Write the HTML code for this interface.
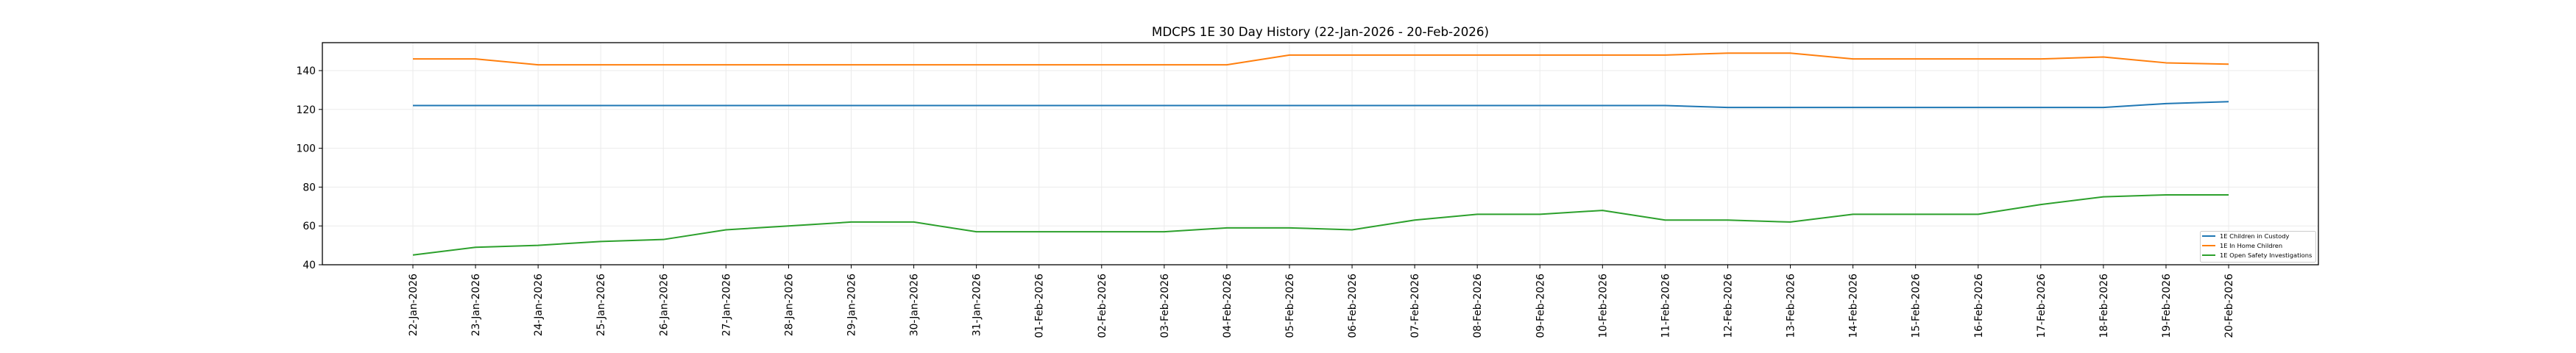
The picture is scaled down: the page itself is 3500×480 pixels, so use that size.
<!DOCTYPE html>
<html><head><meta charset="utf-8"><style>
html,body{margin:0;padding:0;background:#fff;}
svg{display:block;font-family:"DejaVu Sans","Liberation Sans",sans-serif;}
</style></head><body>
<svg width="3500" height="480" viewBox="0 0 3500 480" xmlns="http://www.w3.org/2000/svg">
<rect width="3500" height="480" fill="#fff"/>
<text x="1794" y="49" font-size="16.7" text-anchor="middle" fill="#000">MDCPS 1E 30 Day History (22-Jan-2026 - 20-Feb-2026)</text>
<!-- grid -->
<g stroke="#ebebeb" stroke-width="1">
<line x1="438" x2="3150" y1="360" y2="360"/><line x1="438" x2="3150" y1="307.2" y2="307.2"/><line x1="438" x2="3150" y1="254.4" y2="254.4"/><line x1="438" x2="3150" y1="201.6" y2="201.6"/><line x1="438" x2="3150" y1="148.8" y2="148.8"/><line x1="438" x2="3150" y1="96" y2="96"/>
</g>
<g transform="translate(561,0)" stroke="#ebebeb" stroke-width="1">
<line x1="0" x2="0" y1="58" y2="360"/><line x1="85.07" x2="85.07" y1="58" y2="360"/><line x1="170.14" x2="170.14" y1="58" y2="360"/><line x1="255.21" x2="255.21" y1="58" y2="360"/><line x1="340.28" x2="340.28" y1="58" y2="360"/><line x1="425.35" x2="425.35" y1="58" y2="360"/><line x1="510.42" x2="510.42" y1="58" y2="360"/><line x1="595.49" x2="595.49" y1="58" y2="360"/><line x1="680.56" x2="680.56" y1="58" y2="360"/><line x1="765.63" x2="765.63" y1="58" y2="360"/><line x1="850.7" x2="850.7" y1="58" y2="360"/><line x1="935.77" x2="935.77" y1="58" y2="360"/><line x1="1020.84" x2="1020.84" y1="58" y2="360"/><line x1="1105.91" x2="1105.91" y1="58" y2="360"/><line x1="1190.98" x2="1190.98" y1="58" y2="360"/><line x1="1276.05" x2="1276.05" y1="58" y2="360"/><line x1="1361.12" x2="1361.12" y1="58" y2="360"/><line x1="1446.19" x2="1446.19" y1="58" y2="360"/><line x1="1531.26" x2="1531.26" y1="58" y2="360"/><line x1="1616.33" x2="1616.33" y1="58" y2="360"/><line x1="1701.4" x2="1701.4" y1="58" y2="360"/><line x1="1786.47" x2="1786.47" y1="58" y2="360"/><line x1="1871.54" x2="1871.54" y1="58" y2="360"/><line x1="1956.61" x2="1956.61" y1="58" y2="360"/><line x1="2041.68" x2="2041.68" y1="58" y2="360"/><line x1="2126.75" x2="2126.75" y1="58" y2="360"/><line x1="2211.82" x2="2211.82" y1="58" y2="360"/><line x1="2296.89" x2="2296.89" y1="58" y2="360"/><line x1="2381.96" x2="2381.96" y1="58" y2="360"/><line x1="2467.03" x2="2467.03" y1="58" y2="360"/>
</g>
<!-- series -->
<g transform="translate(561,360) scale(85.07,-2.64)" fill="none" stroke-width="2" stroke-linejoin="round">
<polyline vector-effect="non-scaling-stroke" stroke="#1f77b4" points="0,82 1,82 2,82 3,82 4,82 5,82 6,82 7,82 8,82 9,82 10,82 11,82 12,82 13,82 14,82 15,82 16,82 17,82 18,82 19,82 20,82 21,81 22,81 23,81 24,81 25,81 26,81 27,81 28,83 29,84"/>
<polyline vector-effect="non-scaling-stroke" stroke="#ff7f0e" points="0,106 1,106 2,103 3,103 4,103 5,103 6,103 7,103 8,103 9,103 10,103 11,103 12,103 13,103 14,108 15,108 16,108 17,108 18,108 19,108 20,108 21,109 22,109 23,106 24,106 25,106 26,106 27,107 28,104 29,103.3"/>
<polyline vector-effect="non-scaling-stroke" stroke="#2ca02c" points="0,5 1,9 2,10 3,12 4,13 5,18 6,20 7,22 8,22 9,17 10,17 11,17 12,17 13,19 14,19 15,18 16,23 17,26 18,26 19,28 20,23 21,23 22,22 23,26 24,26 25,26 26,31 27,35 28,36 29,36"/>
</g>
<!-- axes frame -->
<rect x="438" y="58" width="2712" height="302" fill="none" stroke="#000" stroke-width="1.3"/>
<!-- y ticks -->
<g stroke="#000" stroke-width="1"><line x1="433" x2="438" y1="360" y2="360"/><line x1="433" x2="438" y1="307.2" y2="307.2"/><line x1="433" x2="438" y1="254.4" y2="254.4"/><line x1="433" x2="438" y1="201.6" y2="201.6"/><line x1="433" x2="438" y1="148.8" y2="148.8"/><line x1="433" x2="438" y1="96" y2="96"/></g>
<g font-size="13.9" text-anchor="end" fill="#000">
<text x="429" y="365">40</text><text x="429" y="312">60</text><text x="429" y="259.5">80</text><text x="429" y="206.5">100</text><text x="429" y="154">120</text><text x="429" y="101">140</text>
</g>
<!-- x ticks -->
<g transform="translate(561,0)" stroke="#000" stroke-width="1">
<line x1="0" x2="0" y1="360" y2="365"/><line x1="85.07" x2="85.07" y1="360" y2="365"/><line x1="170.14" x2="170.14" y1="360" y2="365"/><line x1="255.21" x2="255.21" y1="360" y2="365"/><line x1="340.28" x2="340.28" y1="360" y2="365"/><line x1="425.35" x2="425.35" y1="360" y2="365"/><line x1="510.42" x2="510.42" y1="360" y2="365"/><line x1="595.49" x2="595.49" y1="360" y2="365"/><line x1="680.56" x2="680.56" y1="360" y2="365"/><line x1="765.63" x2="765.63" y1="360" y2="365"/><line x1="850.7" x2="850.7" y1="360" y2="365"/><line x1="935.77" x2="935.77" y1="360" y2="365"/><line x1="1020.84" x2="1020.84" y1="360" y2="365"/><line x1="1105.91" x2="1105.91" y1="360" y2="365"/><line x1="1190.98" x2="1190.98" y1="360" y2="365"/><line x1="1276.05" x2="1276.05" y1="360" y2="365"/><line x1="1361.12" x2="1361.12" y1="360" y2="365"/><line x1="1446.19" x2="1446.19" y1="360" y2="365"/><line x1="1531.26" x2="1531.26" y1="360" y2="365"/><line x1="1616.33" x2="1616.33" y1="360" y2="365"/><line x1="1701.4" x2="1701.4" y1="360" y2="365"/><line x1="1786.47" x2="1786.47" y1="360" y2="365"/><line x1="1871.54" x2="1871.54" y1="360" y2="365"/><line x1="1956.61" x2="1956.61" y1="360" y2="365"/><line x1="2041.68" x2="2041.68" y1="360" y2="365"/><line x1="2126.75" x2="2126.75" y1="360" y2="365"/><line x1="2211.82" x2="2211.82" y1="360" y2="365"/><line x1="2296.89" x2="2296.89" y1="360" y2="365"/><line x1="2381.96" x2="2381.96" y1="360" y2="365"/><line x1="2467.03" x2="2467.03" y1="360" y2="365"/>
</g>
<g font-size="13.9" text-anchor="end" fill="#000">
<text transform="translate(566,372) rotate(-90)">22-Jan-2026</text>
<text transform="translate(651.07,372) rotate(-90)">23-Jan-2026</text>
<text transform="translate(736.14,372) rotate(-90)">24-Jan-2026</text>
<text transform="translate(821.21,372) rotate(-90)">25-Jan-2026</text>
<text transform="translate(906.28,372) rotate(-90)">26-Jan-2026</text>
<text transform="translate(991.35,372) rotate(-90)">27-Jan-2026</text>
<text transform="translate(1076.42,372) rotate(-90)">28-Jan-2026</text>
<text transform="translate(1161.49,372) rotate(-90)">29-Jan-2026</text>
<text transform="translate(1246.56,372) rotate(-90)">30-Jan-2026</text>
<text transform="translate(1331.63,372) rotate(-90)">31-Jan-2026</text>
<text transform="translate(1416.7,372) rotate(-90)">01-Feb-2026</text>
<text transform="translate(1501.77,372) rotate(-90)">02-Feb-2026</text>
<text transform="translate(1586.84,372) rotate(-90)">03-Feb-2026</text>
<text transform="translate(1671.91,372) rotate(-90)">04-Feb-2026</text>
<text transform="translate(1756.98,372) rotate(-90)">05-Feb-2026</text>
<text transform="translate(1842.05,372) rotate(-90)">06-Feb-2026</text>
<text transform="translate(1927.12,372) rotate(-90)">07-Feb-2026</text>
<text transform="translate(2012.19,372) rotate(-90)">08-Feb-2026</text>
<text transform="translate(2097.26,372) rotate(-90)">09-Feb-2026</text>
<text transform="translate(2182.33,372) rotate(-90)">10-Feb-2026</text>
<text transform="translate(2267.4,372) rotate(-90)">11-Feb-2026</text>
<text transform="translate(2352.47,372) rotate(-90)">12-Feb-2026</text>
<text transform="translate(2437.54,372) rotate(-90)">13-Feb-2026</text>
<text transform="translate(2522.61,372) rotate(-90)">14-Feb-2026</text>
<text transform="translate(2607.68,372) rotate(-90)">15-Feb-2026</text>
<text transform="translate(2692.75,372) rotate(-90)">16-Feb-2026</text>
<text transform="translate(2777.82,372) rotate(-90)">17-Feb-2026</text>
<text transform="translate(2862.89,372) rotate(-90)">18-Feb-2026</text>
<text transform="translate(2947.96,372) rotate(-90)">19-Feb-2026</text>
<text transform="translate(3033.03,372) rotate(-90)">20-Feb-2026</text>
</g>
<!-- legend -->
<rect x="2989.5" y="314.5" width="157" height="42" rx="2" fill="#fff" fill-opacity="0.8" stroke="#cccccc" stroke-width="1"/>
<g stroke-width="2"><line x1="2992" x2="3010" y1="321" y2="321" stroke="#1f77b4"/><line x1="2992" x2="3010" y1="334" y2="334" stroke="#ff7f0e"/><line x1="2992" x2="3010" y1="347" y2="347" stroke="#2ca02c"/></g>
<g font-size="8.3" fill="#000"><text x="3016" y="324">1E Children in Custody</text><text x="3016" y="337">1E In Home Children</text><text x="3016" y="350">1E Open Safety Investigations</text></g>
</svg>
</body></html>
